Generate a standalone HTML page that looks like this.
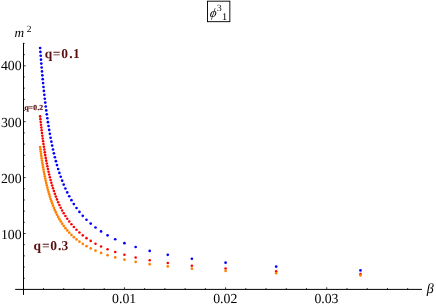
<!DOCTYPE html>
<html><head><meta charset="utf-8"><title>plot</title>
<style>
html,body{margin:0;padding:0;background:#fff;}
svg{display:block;}
text{font-family:"Liberation Serif",serif;}
</style></head><body>
<svg width="436" height="307" viewBox="0 0 436 307">
<defs><filter id="g" x="0" y="0" width="436" height="307" filterUnits="userSpaceOnUse"><feOffset dx="0" dy="0"/></filter></defs>
<rect width="436" height="307" fill="#fff"/>
<g filter="url(#g)" text-rendering="geometricPrecision">
<g stroke="#000" stroke-width="1" fill="none">
<line x1="15.2" y1="289.40" x2="422" y2="289.40"/>
<line x1="23.50" y1="42.9" x2="23.50" y2="294.9"/>
</g>
<g stroke="#000" stroke-width="0.8" fill="none">
<line x1="43.48" y1="289.40" x2="43.48" y2="288.05"/>
<line x1="63.72" y1="289.40" x2="63.72" y2="288.05"/>
<line x1="83.95" y1="289.40" x2="83.95" y2="288.05"/>
<line x1="104.19" y1="289.40" x2="104.19" y2="288.05"/>
<line x1="124.42" y1="289.40" x2="124.42" y2="287.30"/>
<line x1="144.65" y1="289.40" x2="144.65" y2="288.05"/>
<line x1="164.89" y1="289.40" x2="164.89" y2="288.05"/>
<line x1="185.12" y1="289.40" x2="185.12" y2="288.05"/>
<line x1="205.36" y1="289.40" x2="205.36" y2="288.05"/>
<line x1="225.59" y1="289.40" x2="225.59" y2="287.30"/>
<line x1="245.82" y1="289.40" x2="245.82" y2="288.05"/>
<line x1="266.06" y1="289.40" x2="266.06" y2="288.05"/>
<line x1="286.29" y1="289.40" x2="286.29" y2="288.05"/>
<line x1="306.53" y1="289.40" x2="306.53" y2="288.05"/>
<line x1="326.76" y1="289.40" x2="326.76" y2="287.30"/>
<line x1="346.99" y1="289.40" x2="346.99" y2="288.05"/>
<line x1="367.23" y1="289.40" x2="367.23" y2="288.05"/>
<line x1="387.46" y1="289.40" x2="387.46" y2="288.05"/>
<line x1="407.70" y1="289.40" x2="407.70" y2="288.05"/>
<line x1="23.50" y1="278.22" x2="24.85" y2="278.22"/>
<line x1="23.50" y1="267.04" x2="24.85" y2="267.04"/>
<line x1="23.50" y1="255.86" x2="24.85" y2="255.86"/>
<line x1="23.50" y1="244.68" x2="24.85" y2="244.68"/>
<line x1="23.50" y1="233.50" x2="25.60" y2="233.50"/>
<line x1="23.50" y1="222.32" x2="24.85" y2="222.32"/>
<line x1="23.50" y1="211.14" x2="24.85" y2="211.14"/>
<line x1="23.50" y1="199.96" x2="24.85" y2="199.96"/>
<line x1="23.50" y1="188.78" x2="24.85" y2="188.78"/>
<line x1="23.50" y1="177.60" x2="25.60" y2="177.60"/>
<line x1="23.50" y1="166.42" x2="24.85" y2="166.42"/>
<line x1="23.50" y1="155.24" x2="24.85" y2="155.24"/>
<line x1="23.50" y1="144.06" x2="24.85" y2="144.06"/>
<line x1="23.50" y1="132.88" x2="24.85" y2="132.88"/>
<line x1="23.50" y1="121.70" x2="25.60" y2="121.70"/>
<line x1="23.50" y1="110.52" x2="24.85" y2="110.52"/>
<line x1="23.50" y1="99.34" x2="24.85" y2="99.34"/>
<line x1="23.50" y1="88.16" x2="24.85" y2="88.16"/>
<line x1="23.50" y1="76.98" x2="24.85" y2="76.98"/>
<line x1="23.50" y1="65.80" x2="25.60" y2="65.80"/>
<line x1="23.50" y1="54.62" x2="24.85" y2="54.62"/>
<line x1="23.50" y1="43.44" x2="24.60" y2="43.44"/>
</g>
<g font-size="14" fill="#000">
<text x="124.12" y="303.1" text-anchor="middle" font-size="13.8">0.01</text>
<text x="225.29" y="303.1" text-anchor="middle" font-size="13.8">0.02</text>
<text x="326.46" y="303.1" text-anchor="middle" font-size="13.8">0.03</text>
<text x="21.6" y="238.65" text-anchor="end" font-size="13.8">100</text>
<text x="21.6" y="182.65" text-anchor="end" font-size="13.8">200</text>
<text x="21.6" y="126.95" text-anchor="end" font-size="13.8">300</text>
<text x="21.6" y="70.20" text-anchor="end" font-size="13.8">400</text>
</g>
<text x="14.5" y="36.8" font-size="13.3" font-style="italic">m</text>
<text x="26.85" y="31.7" font-size="9.5">2</text>
<text x="426.8" y="293.4" font-size="14" font-style="italic">β</text>
<rect x="207.5" y="1.17" width="22.35" height="20.5" fill="none" stroke="#000" stroke-width="0.93"/>
<text transform="translate(209.6,16.6) skewX(-9)" font-size="12.6" font-style="italic">ϕ</text>
<text x="217.1" y="11.0" font-size="9.5">3</text>
<text x="222.1" y="19.9" font-size="10.3">1</text>
<g fill="#0000ff">
<circle cx="360.48" cy="270.45" r="1.33"/>
<circle cx="276.18" cy="266.55" r="1.33"/>
<circle cx="225.59" cy="262.64" r="1.33"/>
<circle cx="191.87" cy="258.74" r="1.33"/>
<circle cx="167.78" cy="254.84" r="1.33"/>
<circle cx="149.71" cy="250.94" r="1.33"/>
<circle cx="135.66" cy="247.03" r="1.33"/>
<circle cx="124.42" cy="243.13" r="1.33"/>
<circle cx="115.22" cy="239.23" r="1.33"/>
<circle cx="107.56" cy="235.32" r="1.33"/>
<circle cx="101.07" cy="231.42" r="1.33"/>
<circle cx="95.51" cy="227.52" r="1.33"/>
<circle cx="90.70" cy="223.61" r="1.33"/>
<circle cx="86.48" cy="219.71" r="1.33"/>
<circle cx="82.76" cy="215.81" r="1.33"/>
<circle cx="79.46" cy="211.91" r="1.33"/>
<circle cx="76.50" cy="208.00" r="1.33"/>
<circle cx="73.84" cy="204.10" r="1.33"/>
<circle cx="71.43" cy="200.20" r="1.33"/>
<circle cx="69.24" cy="196.29" r="1.33"/>
<circle cx="67.24" cy="192.39" r="1.33"/>
<circle cx="65.40" cy="188.49" r="1.33"/>
<circle cx="63.72" cy="184.58" r="1.33"/>
<circle cx="62.16" cy="180.68" r="1.33"/>
<circle cx="60.72" cy="176.78" r="1.33"/>
<circle cx="59.38" cy="172.88" r="1.33"/>
<circle cx="58.14" cy="168.97" r="1.33"/>
<circle cx="56.97" cy="165.07" r="1.33"/>
<circle cx="55.89" cy="161.17" r="1.33"/>
<circle cx="54.87" cy="157.26" r="1.33"/>
<circle cx="53.91" cy="153.36" r="1.33"/>
<circle cx="53.01" cy="149.46" r="1.33"/>
<circle cx="52.16" cy="145.55" r="1.33"/>
<circle cx="51.35" cy="141.65" r="1.33"/>
<circle cx="50.59" cy="137.75" r="1.33"/>
<circle cx="49.87" cy="133.85" r="1.33"/>
<circle cx="49.19" cy="129.94" r="1.33"/>
<circle cx="48.54" cy="126.04" r="1.33"/>
<circle cx="47.93" cy="122.14" r="1.33"/>
<circle cx="47.34" cy="118.23" r="1.33"/>
<circle cx="46.78" cy="114.33" r="1.33"/>
<circle cx="46.24" cy="110.43" r="1.33"/>
<circle cx="45.73" cy="106.52" r="1.33"/>
<circle cx="45.24" cy="102.62" r="1.33"/>
<circle cx="44.78" cy="98.72" r="1.33"/>
<circle cx="44.33" cy="94.82" r="1.33"/>
<circle cx="43.90" cy="90.91" r="1.33"/>
<circle cx="43.48" cy="87.01" r="1.33"/>
<circle cx="43.09" cy="83.11" r="1.33"/>
<circle cx="42.71" cy="79.20" r="1.33"/>
<circle cx="42.34" cy="75.30" r="1.33"/>
<circle cx="41.99" cy="71.40" r="1.33"/>
<circle cx="41.64" cy="67.49" r="1.33"/>
<circle cx="41.32" cy="63.59" r="1.33"/>
<circle cx="41.00" cy="59.69" r="1.33"/>
<circle cx="40.69" cy="55.79" r="1.33"/>
<circle cx="40.40" cy="51.88" r="1.33"/>
<circle cx="40.11" cy="47.98" r="1.33"/>
</g>
<g fill="#ff0000">
<circle cx="360.48" cy="274.10" r="1.28"/>
<circle cx="276.18" cy="271.33" r="1.28"/>
<circle cx="225.59" cy="268.56" r="1.28"/>
<circle cx="191.87" cy="265.80" r="1.28"/>
<circle cx="167.78" cy="263.03" r="1.28"/>
<circle cx="149.71" cy="260.26" r="1.28"/>
<circle cx="135.66" cy="257.50" r="1.28"/>
<circle cx="124.42" cy="254.73" r="1.28"/>
<circle cx="115.22" cy="251.96" r="1.28"/>
<circle cx="107.56" cy="249.20" r="1.28"/>
<circle cx="101.07" cy="246.43" r="1.28"/>
<circle cx="95.51" cy="243.66" r="1.28"/>
<circle cx="90.70" cy="240.89" r="1.28"/>
<circle cx="86.48" cy="238.13" r="1.28"/>
<circle cx="82.76" cy="235.36" r="1.28"/>
<circle cx="79.46" cy="232.59" r="1.28"/>
<circle cx="76.50" cy="229.83" r="1.28"/>
<circle cx="73.84" cy="227.06" r="1.28"/>
<circle cx="71.43" cy="224.29" r="1.28"/>
<circle cx="69.24" cy="221.53" r="1.28"/>
<circle cx="67.24" cy="218.76" r="1.28"/>
<circle cx="65.40" cy="215.99" r="1.28"/>
<circle cx="63.72" cy="213.22" r="1.28"/>
<circle cx="62.16" cy="210.46" r="1.28"/>
<circle cx="60.72" cy="207.69" r="1.28"/>
<circle cx="59.38" cy="204.92" r="1.28"/>
<circle cx="58.14" cy="202.16" r="1.28"/>
<circle cx="56.97" cy="199.39" r="1.28"/>
<circle cx="55.89" cy="196.62" r="1.28"/>
<circle cx="54.87" cy="193.86" r="1.28"/>
<circle cx="53.91" cy="191.09" r="1.28"/>
<circle cx="53.01" cy="188.32" r="1.28"/>
<circle cx="52.16" cy="185.55" r="1.28"/>
<circle cx="51.35" cy="182.79" r="1.28"/>
<circle cx="50.59" cy="180.02" r="1.28"/>
<circle cx="49.87" cy="177.25" r="1.28"/>
<circle cx="49.19" cy="174.49" r="1.28"/>
<circle cx="48.54" cy="171.72" r="1.28"/>
<circle cx="47.93" cy="168.95" r="1.28"/>
<circle cx="47.34" cy="166.19" r="1.28"/>
<circle cx="46.78" cy="163.42" r="1.28"/>
<circle cx="46.24" cy="160.65" r="1.28"/>
<circle cx="45.73" cy="157.88" r="1.28"/>
<circle cx="45.24" cy="155.12" r="1.28"/>
<circle cx="44.78" cy="152.35" r="1.28"/>
<circle cx="44.33" cy="149.58" r="1.28"/>
<circle cx="43.90" cy="146.82" r="1.28"/>
<circle cx="43.48" cy="144.05" r="1.28"/>
<circle cx="43.09" cy="141.28" r="1.28"/>
<circle cx="42.71" cy="138.52" r="1.28"/>
<circle cx="42.34" cy="135.75" r="1.28"/>
<circle cx="41.99" cy="132.98" r="1.28"/>
<circle cx="41.64" cy="130.21" r="1.28"/>
<circle cx="41.32" cy="127.45" r="1.28"/>
<circle cx="41.00" cy="124.68" r="1.28"/>
<circle cx="40.69" cy="121.91" r="1.28"/>
<circle cx="40.40" cy="119.15" r="1.28"/>
<circle cx="40.11" cy="116.38" r="1.28"/>
</g>
<g fill="#ff8000">
<circle cx="360.48" cy="275.44" r="1.33"/>
<circle cx="276.18" cy="273.19" r="1.33"/>
<circle cx="225.59" cy="270.94" r="1.33"/>
<circle cx="191.87" cy="268.69" r="1.33"/>
<circle cx="167.78" cy="266.44" r="1.33"/>
<circle cx="149.71" cy="264.18" r="1.33"/>
<circle cx="135.66" cy="261.93" r="1.33"/>
<circle cx="124.42" cy="259.68" r="1.33"/>
<circle cx="115.22" cy="257.43" r="1.33"/>
<circle cx="107.56" cy="255.18" r="1.33"/>
<circle cx="101.07" cy="252.92" r="1.33"/>
<circle cx="95.51" cy="250.67" r="1.33"/>
<circle cx="90.70" cy="248.42" r="1.33"/>
<circle cx="86.48" cy="246.17" r="1.33"/>
<circle cx="82.76" cy="243.92" r="1.33"/>
<circle cx="79.46" cy="241.66" r="1.33"/>
<circle cx="76.50" cy="239.41" r="1.33"/>
<circle cx="73.84" cy="237.16" r="1.33"/>
<circle cx="71.43" cy="234.91" r="1.33"/>
<circle cx="69.24" cy="232.66" r="1.33"/>
<circle cx="67.24" cy="230.40" r="1.33"/>
<circle cx="65.40" cy="228.15" r="1.33"/>
<circle cx="63.72" cy="225.90" r="1.33"/>
<circle cx="62.16" cy="223.65" r="1.33"/>
<circle cx="60.72" cy="221.40" r="1.33"/>
<circle cx="59.38" cy="219.14" r="1.33"/>
<circle cx="58.14" cy="216.89" r="1.33"/>
<circle cx="56.97" cy="214.64" r="1.33"/>
<circle cx="55.89" cy="212.39" r="1.33"/>
<circle cx="54.87" cy="210.14" r="1.33"/>
<circle cx="53.91" cy="207.88" r="1.33"/>
<circle cx="53.01" cy="205.63" r="1.33"/>
<circle cx="52.16" cy="203.38" r="1.33"/>
<circle cx="51.35" cy="201.13" r="1.33"/>
<circle cx="50.59" cy="198.88" r="1.33"/>
<circle cx="49.87" cy="196.62" r="1.33"/>
<circle cx="49.19" cy="194.37" r="1.33"/>
<circle cx="48.54" cy="192.12" r="1.33"/>
<circle cx="47.93" cy="189.87" r="1.33"/>
<circle cx="47.34" cy="187.62" r="1.33"/>
<circle cx="46.78" cy="185.36" r="1.33"/>
<circle cx="46.24" cy="183.11" r="1.33"/>
<circle cx="45.73" cy="180.86" r="1.33"/>
<circle cx="45.24" cy="178.61" r="1.33"/>
<circle cx="44.78" cy="176.36" r="1.33"/>
<circle cx="44.33" cy="174.10" r="1.33"/>
<circle cx="43.90" cy="171.85" r="1.33"/>
<circle cx="43.48" cy="169.60" r="1.33"/>
<circle cx="43.09" cy="167.35" r="1.33"/>
<circle cx="42.71" cy="165.10" r="1.33"/>
<circle cx="42.34" cy="162.84" r="1.33"/>
<circle cx="41.99" cy="160.59" r="1.33"/>
<circle cx="41.64" cy="158.34" r="1.33"/>
<circle cx="41.32" cy="156.09" r="1.33"/>
<circle cx="41.00" cy="153.84" r="1.33"/>
<circle cx="40.69" cy="151.58" r="1.33"/>
<circle cx="40.40" cy="149.33" r="1.33"/>
<circle cx="40.11" cy="147.08" r="1.33"/>
</g>
<g fill="#5a0d0d" font-weight="bold">
<text x="44.8 52.7 61.3 69.3 73.0" y="58.3" font-size="13.5">q=0.1</text>
<text x="24.6 28.5 33.3 37.5 39.3" y="109.9" font-size="7.6" stroke="#5a0d0d" stroke-width="0.2">q=0.2</text>
<text x="33.6 41.9 50.2 58.1 61.6" y="249.9" font-size="13.5">q=0.3</text>
</g>
</g>
</svg>
</body></html>
